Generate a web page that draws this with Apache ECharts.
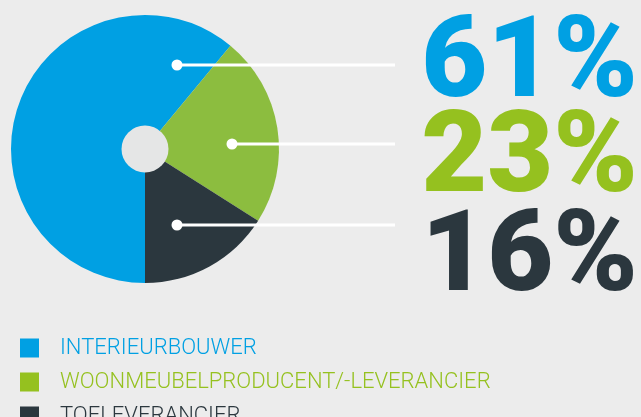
<!DOCTYPE html>
<html><head><meta charset="utf-8">
<script src="https://cdn.jsdelivr.net/npm/echarts@6/dist/echarts.min.js"></script>
<style>html,body{margin:0;padding:0;background:#ececec;}#c{width:641px;height:417px;}</style>
</head><body><div id="c"></div>
<script>
const categories = ['INTERIEURBOUWER', 'WOONMEUBELPRODUCENT/-LEVERANCIER', 'TOELEVERANCIER'];
const values = [61, 23, 16];
const sliceColors = ['#00a0e3', '#8cbd3f', '#2b373e'];
const textColors = ['#00a0e3', '#95c11f', '#2b373e'];

const chart = echarts.init(document.getElementById('c'));
const total = values.reduce((a, b) => a + b, 0);
const pctTexts = values.map(v => Math.round(v / total * 100) + '%');

const dotPos = [[177, 65], [232, 144], [177, 225]];
const textY = [67, 162, 261];
const graphics = [];
dotPos.forEach((p, i) => {
  graphics.push({type: 'line', shape: {x1: p[0], y1: p[1], x2: 395, y2: p[1]}, style: {stroke: '#ffffff', lineWidth: 3}, z: 10});
  graphics.push({type: 'circle', shape: {cx: p[0], cy: p[1], r: 5.5}, style: {fill: '#ffffff'}, z: 10});
  graphics.push({type: 'text', x: 638, y: textY[i], style: {text: pctTexts[i], fill: textColors[i], font: '900 114px Roboto', align: 'right', verticalAlign: 'middle'}, z: 10});
});

chart.setOption({
  backgroundColor: '#ececec',
  animation: false,
  legend: {
    orient: 'vertical', left: 20, top: 337, height: 300, padding: 0,
    itemWidth: 19, itemHeight: 19, itemGap: 12,
    icon: 'rect',
    textStyle: {fontFamily: 'Roboto', fontWeight: 300, fontSize: 22, padding: [0, 0, 0, 16]},
    data: categories.map((c, i) => ({name: c, itemStyle: {color: textColors[i]}, textStyle: {color: textColors[i]}}))
  },
  graphic: graphics,
  series: [
    {
      type: 'pie', center: [145, 149], radius: [0, 134], startAngle: -90, clockwise: true,
      label: {show: false}, labelLine: {show: false}, silent: true,
      data: categories.map((c, i) => ({name: c, value: values[i], itemStyle: {color: sliceColors[i]}}))
    },
    {
      type: 'pie', center: [145, 149], radius: [0, 23.5], silent: true, z: 3,
      label: {show: false}, labelLine: {show: false}, legendHoverLink: false,
      data: [{name: 'hole', value: 1, itemStyle: {color: '#e5e6e6'}}]
    }
  ]
});
</script></body></html>
